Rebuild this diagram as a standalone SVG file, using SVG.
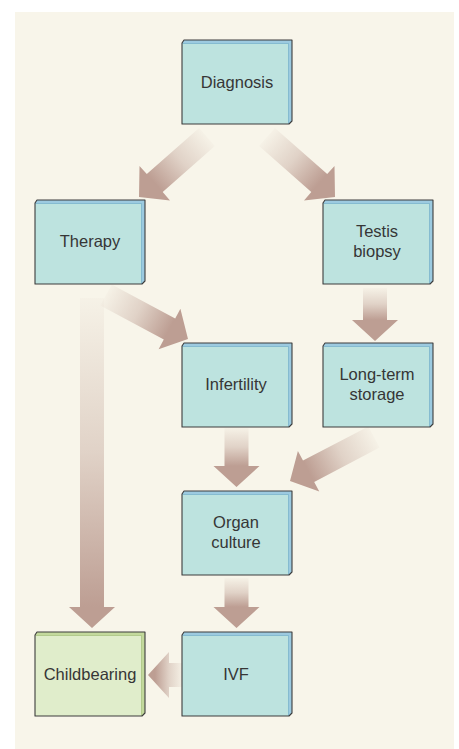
<svg xmlns="http://www.w3.org/2000/svg" width="459" height="749" viewBox="0 0 459 749">
<style>
.bg{fill:#f8f5ea}
.bevel{fill:#9ccae0;stroke:none}
.face{fill:#bde3df;stroke:none}
.bevel-g{fill:#c3d99c;stroke:none}
.face-g{fill:#e0edcb;stroke:none}
.outline{fill:none;stroke:#3c3c3c;stroke-width:1.1;stroke-linejoin:round}
.sep{fill:none;stroke:#6aa8c4;stroke-width:0.6}
.sep-g{fill:none;stroke:#9db870;stroke-width:0.6}
.label{font-family:"Liberation Sans",Arial,sans-serif;font-size:16.5px;fill:#363636;text-anchor:middle}
.s0{stop-color:#bd9e93;stop-opacity:0.04}
.s1{stop-color:#bd9e93;stop-opacity:0.4}
.s2{stop-color:#bd9e93;stop-opacity:1}
</style>
<defs>
<linearGradient id="gA1" gradientUnits="userSpaceOnUse" x1="207" y1="137" x2="154.75" y2="183.1"><stop offset="0" class="s0"/><stop offset="0.5" class="s1"/><stop offset="1" class="s2"/></linearGradient>
<linearGradient id="gA2" gradientUnits="userSpaceOnUse" x1="267" y1="137" x2="319.25" y2="183.1"><stop offset="0" class="s0"/><stop offset="0.5" class="s1"/><stop offset="1" class="s2"/></linearGradient>
<linearGradient id="gA3" gradientUnits="userSpaceOnUse" x1="106" y1="295" x2="169.5" y2="329"><stop offset="0" class="s0"/><stop offset="0.5" class="s1"/><stop offset="1" class="s2"/></linearGradient>
<linearGradient id="gA4" gradientUnits="userSpaceOnUse" x1="375" y1="288" x2="375" y2="320"><stop offset="0" class="s0"/><stop offset="0.5" class="s1"/><stop offset="1" class="s2"/></linearGradient>
<linearGradient id="gA5" gradientUnits="userSpaceOnUse" x1="374" y1="437" x2="308.6" y2="471.3"><stop offset="0" class="s0"/><stop offset="0.5" class="s1"/><stop offset="1" class="s2"/></linearGradient>
<linearGradient id="gA6" gradientUnits="userSpaceOnUse" x1="236.5" y1="428" x2="236.5" y2="466"><stop offset="0" class="s0"/><stop offset="0.5" class="s1"/><stop offset="1" class="s2"/></linearGradient>
<linearGradient id="gA7" gradientUnits="userSpaceOnUse" x1="236.5" y1="578" x2="236.5" y2="607"><stop offset="0" class="s0"/><stop offset="0.5" class="s1"/><stop offset="1" class="s2"/></linearGradient>
<linearGradient id="gA8" gradientUnits="userSpaceOnUse" x1="92" y1="298" x2="92" y2="607"><stop offset="0" class="s0"/><stop offset="0.5" class="s1"/><stop offset="1" class="s2"/></linearGradient>
<linearGradient id="gA9" gradientUnits="userSpaceOnUse" x1="183" y1="675" x2="155" y2="675"><stop offset="0" class="s0"/><stop offset="0.5" class="s1"/><stop offset="1" class="s2"/></linearGradient>
</defs>
<rect class="bg" x="15" y="12" width="439" height="737"/>
<g id="connectors">
<polygon fill="url(#gA1)" points="214.9,146 162.7,192.1 170,200.4 139,197 139.5,165.9 146.8,174.1 199.1,128"/>
<polygon fill="url(#gA2)" points="259.1,146 311.3,192.1 304,200.4 335,197 334.5,165.9 327.2,174.1 274.9,128"/>
<polygon fill="url(#gA3)" points="100.3,305.6 163.8,339.6 158.6,349.3 188,339 180.4,308.8 175.2,318.5 111.7,284.4"/>
<polygon fill="url(#gA4)" points="363,288 363,320 352,320 375,341 398,320 387,320 387,288"/>
<polygon fill="url(#gA5)" points="379.6,447.6 314.2,481.9 319.3,491.6 290,481 297.9,450.9 303,460.6 368.4,426.4"/>
<polygon fill="url(#gA6)" points="224.5,428 224.5,466 213.5,466 236.5,487 259.5,466 248.5,466 248.5,428"/>
<polygon fill="url(#gA7)" points="224.5,578 224.5,607 213.5,607 236.5,628 259.5,607 248.5,607 248.5,578"/>
<polygon fill="url(#gA8)" points="80,298 80,607 69,607 92,628 115,607 104,607 104,298"/>
<polygon fill="url(#gA9)" points="183,663 169,663 169,652 148,675 169,698 169,687 183,687"/>
</g>
<g id="node-diagnosis" transform="translate(182,40)">
<polygon class="bevel" points="2,0 110,0 110,81 107,84 0,84 0,3"/>
<rect class="face" x="0" y="3.5" width="106.5" height="80.5"/>
<polyline class="sep" points="0.5,3.5 106.5,3.5 106.5,84"/>
<polygon class="outline" points="2,0 110,0 110,81 107,84 0,84 0,3"/>
<text class="label" x="55" y="48">Diagnosis</text>
</g>
<g id="node-therapy" transform="translate(35,200)">
<polygon class="bevel" points="2,0 110,0 110,81 107,84 0,84 0,3"/>
<rect class="face" x="0" y="3.5" width="106.5" height="80.5"/>
<polyline class="sep" points="0.5,3.5 106.5,3.5 106.5,84"/>
<polygon class="outline" points="2,0 110,0 110,81 107,84 0,84 0,3"/>
<text class="label" x="55" y="47">Therapy</text>
</g>
<g id="node-testis-biopsy" transform="translate(323,200)">
<polygon class="bevel" points="2,0 110,0 110,81 107,84 0,84 0,3"/>
<rect class="face" x="0" y="3.5" width="106.5" height="80.5"/>
<polyline class="sep" points="0.5,3.5 106.5,3.5 106.5,84"/>
<polygon class="outline" points="2,0 110,0 110,81 107,84 0,84 0,3"/>
<text class="label" x="54" y="37">Testis</text>
<text class="label" x="54" y="57">biopsy</text>
</g>
<g id="node-infertility" transform="translate(182,343)">
<polygon class="bevel" points="2,0 110,0 110,81 107,84 0,84 0,3"/>
<rect class="face" x="0" y="3.5" width="106.5" height="80.5"/>
<polyline class="sep" points="0.5,3.5 106.5,3.5 106.5,84"/>
<polygon class="outline" points="2,0 110,0 110,81 107,84 0,84 0,3"/>
<text class="label" x="54" y="47">Infertility</text>
</g>
<g id="node-long-term-storage" transform="translate(323,343)">
<polygon class="bevel" points="2,0 110,0 110,81 107,84 0,84 0,3"/>
<rect class="face" x="0" y="3.5" width="106.5" height="80.5"/>
<polyline class="sep" points="0.5,3.5 106.5,3.5 106.5,84"/>
<polygon class="outline" points="2,0 110,0 110,81 107,84 0,84 0,3"/>
<text class="label" x="54" y="37">Long-term</text>
<text class="label" x="54" y="57">storage</text>
</g>
<g id="node-organ-culture" transform="translate(182,491)">
<polygon class="bevel" points="2,0 110,0 110,81 107,84 0,84 0,3"/>
<rect class="face" x="0" y="3.5" width="106.5" height="80.5"/>
<polyline class="sep" points="0.5,3.5 106.5,3.5 106.5,84"/>
<polygon class="outline" points="2,0 110,0 110,81 107,84 0,84 0,3"/>
<text class="label" x="54" y="37">Organ</text>
<text class="label" x="54" y="57">culture</text>
</g>
<g id="node-childbearing" transform="translate(35,632)">
<polygon class="bevel-g" points="2,0 110,0 110,81 107,84 0,84 0,3"/>
<rect class="face-g" x="0" y="3.5" width="106.5" height="80.5"/>
<polyline class="sep-g" points="0.5,3.5 106.5,3.5 106.5,84"/>
<polygon class="outline" points="2,0 110,0 110,81 107,84 0,84 0,3"/>
<text class="label" x="55" y="48">Childbearing</text>
</g>
<g id="node-ivf" transform="translate(182,632)">
<polygon class="bevel" points="2,0 110,0 110,81 107,84 0,84 0,3"/>
<rect class="face" x="0" y="3.5" width="106.5" height="80.5"/>
<polyline class="sep" points="0.5,3.5 106.5,3.5 106.5,84"/>
<polygon class="outline" points="2,0 110,0 110,81 107,84 0,84 0,3"/>
<text class="label" x="54" y="48">IVF</text>
</g>
</svg>
